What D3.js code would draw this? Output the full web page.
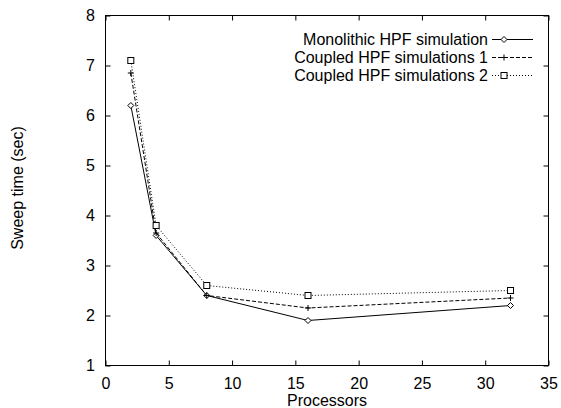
<!DOCTYPE html>
<html lang="en">
  <head>
    <meta charset="UTF-8" />
    <title>Sweep time</title>
    <script src="https://d3js.org/d3.v7.min.js"></script>
    <style>
      body {
        margin: 0;
        background-color: #fff;
      }
      svg text {
        font-family: "Liberation Sans", Arial, sans-serif;
        font-size: 16px;
        fill: #000;
      }
    </style>
  </head>
  <body>
    <div id="chart"></div>
    <script>
      // data
      const processors = [2, 4, 8, 16, 32];
      const monolithic = [6.2, 3.6, 2.4, 1.9, 2.2];
      const coupled1 = [6.85, 3.65, 2.4, 2.15, 2.35];
      const coupled2 = [7.1, 3.8, 2.6, 2.4, 2.5];
      const xTicks = [0, 5, 10, 15, 20, 25, 30, 35];
      const yTicks = [1, 2, 3, 4, 5, 6, 7, 8];
      const seriesNames = [
        "Monolithic HPF simulation",
        "Coupled HPF simulations 1",
        "Coupled HPF simulations 2",
      ];

      const width = 561;
      const height = 408;
      const mLeft = 105.5, mRight = 548.5, mTop = 15.5, mBottom = 365.5;

      const svg = d3
        .select("#chart")
        .append("svg")
        .attr("width", width)
        .attr("height", height);

      const x = d3.scaleLinear().domain([0, 35]).range([mLeft, mRight]);
      const y = d3.scaleLinear().domain([1, 8]).range([mBottom, mTop]);

      // frame
      svg
        .append("rect")
        .attr("x", mLeft)
        .attr("y", mTop)
        .attr("width", mRight - mLeft)
        .attr("height", mBottom - mTop)
        .attr("fill", "none")
        .attr("stroke", "#000");

      // ticks on all four sides, pointing inward
      const tk = 5;
      const inner = (axis, pad) =>
        axis.tickSizeInner(-tk).tickSizeOuter(0).tickPadding(pad);

      const gx = svg
        .append("g")
        .attr("transform", `translate(0,${mBottom})`)
        .call(inner(d3.axisBottom(x).tickValues(xTicks).tickFormat(d3.format("d")), 12));
      const gxTop = svg
        .append("g")
        .attr("transform", `translate(0,${mTop})`)
        .call(inner(d3.axisTop(x).tickValues(xTicks).tickFormat(""), 0));
      const gy = svg
        .append("g")
        .attr("transform", `translate(${mLeft},0)`)
        .call(inner(d3.axisLeft(y).tickValues(yTicks).tickFormat(d3.format("d")), 10.5));
      const gyRight = svg
        .append("g")
        .attr("transform", `translate(${mRight},0)`)
        .call(inner(d3.axisRight(y).tickValues(yTicks).tickFormat(""), 0));

      [gx, gxTop, gy, gyRight].forEach((g) => {
        g.select(".domain").remove();
        g.selectAll("line").attr("stroke", "#000");
        g.selectAll("text").attr("font-size", null).attr("font-family", null);
      });

      // axis titles
      svg
        .append("text")
        .attr("x", 327)
        .attr("y", 406)
        .attr("text-anchor", "middle")
        .text("Processors");
      svg
        .append("text")
        .attr("transform", `translate(23,188) rotate(-90)`)
        .attr("text-anchor", "middle")
        .text("Sweep time (sec)");

      const series = [
        { name: seriesNames[0], values: monolithic, dash: null, mark: "diamond" },
        { name: seriesNames[1], values: coupled1, dash: "4,2", mark: "plus" },
        { name: seriesNames[2], values: coupled2, dash: "1,2", mark: "square" },
      ];

      const line = d3
        .line()
        .x((d) => x(d[0]))
        .y((d) => y(d[1]));

      function drawMark(g, type, cx, cy) {
        if (type === "diamond") {
          g.append("path")
            .attr("d", `M${cx},${cy - 3}L${cx + 3},${cy}L${cx},${cy + 3}L${cx - 3},${cy}Z`)
            .attr("fill", "#fff")
            .attr("stroke", "#000");
        } else if (type === "plus") {
          g.append("path")
            .attr("d", `M${cx - 3},${cy}H${cx + 3}M${cx},${cy - 3}V${cy + 3}`)
            .attr("stroke", "#000");
        } else {
          g.append("rect")
            .attr("x", cx - 3)
            .attr("y", cy - 3)
            .attr("width", 6)
            .attr("height", 6)
            .attr("fill", "#fff")
            .attr("stroke", "#000");
        }
      }

      series.forEach((s, i) => {
        const pts = processors.map((p, j) => [p, s.values[j]]);
        const g = svg.append("g");
        g.append("path")
          .attr("d", line(pts))
          .attr("fill", "none")
          .attr("stroke", "#000")
          .attr("stroke-dasharray", s.dash);
        pts.forEach((d) => drawMark(g, s.mark, x(d[0]), y(d[1])));

        // legend entry
        const ly = 39.5 + i * 18;
        svg
          .append("text")
          .attr("x", 488)
          .attr("y", ly)
          .attr("dy", "0.35em")
          .attr("text-anchor", "end")
          .text(s.name);
        g.append("line")
          .attr("x1", 492)
          .attr("x2", 533)
          .attr("y1", ly)
          .attr("y2", ly)
          .attr("stroke", "#000")
          .attr("stroke-dasharray", s.dash);
        drawMark(g, s.mark, 504, ly);
      });
    </script>
  </body>
</html>
